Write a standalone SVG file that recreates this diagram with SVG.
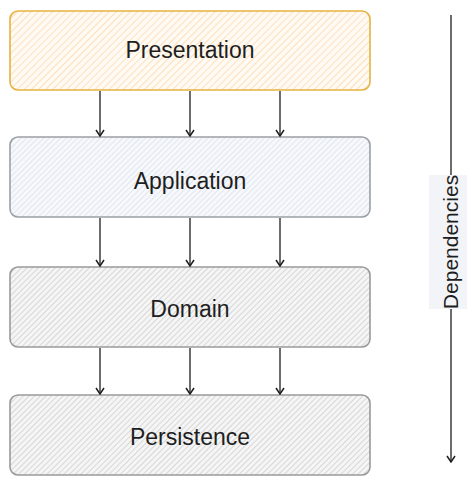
<svg xmlns="http://www.w3.org/2000/svg" width="474" height="486" viewBox="0 0 474 486">
<defs>
<pattern id="hOrange" patternUnits="userSpaceOnUse" width="5" height="5" patternTransform="rotate(45)">
<rect width="5" height="5" fill="#fffaf3"/>
<line x1="0" y1="0" x2="0" y2="5" stroke="#fde0bd" stroke-width="2"/>
</pattern>
<pattern id="hBlue" patternUnits="userSpaceOnUse" width="4" height="4" patternTransform="rotate(45)">
<rect width="4" height="4" fill="#f6f8fb"/>
<line x1="0" y1="0" x2="0" y2="4" stroke="#dce2ed" stroke-width="1.6"/>
</pattern>
<pattern id="hGray" patternUnits="userSpaceOnUse" width="4" height="4" patternTransform="rotate(45)">
<rect width="4" height="4" fill="#f5f5f5"/>
<line x1="0" y1="0" x2="0" y2="4" stroke="#d0d0d0" stroke-width="1.6"/>
</pattern>
<marker id="arr" markerWidth="10" markerHeight="10" refX="9" refY="5" orient="auto" markerUnits="userSpaceOnUse" viewBox="0 0 10 10">
<path d="M3,1 L9,5 L3,9" fill="none" stroke="#1e1e1e" stroke-width="1.5"/>
</marker>
</defs>
<style>
.box{stroke-width:1.6}
.lbl{font-family:"Liberation Sans",Arial,sans-serif;font-size:23px;fill:#1e1e1e;text-anchor:middle;dominant-baseline:central}
.con{stroke:#1e1e1e;stroke-width:1.3;fill:none}
</style>
<g id="presentation">
<rect class="box" x="10" y="11" width="360" height="79" rx="8" fill="url(#hOrange)" stroke="#e6b240"/>
<text class="lbl" x="190" y="50">Presentation</text>
</g>
<g id="application">
<rect class="box" x="10" y="137" width="360" height="80" rx="8" fill="url(#hBlue)" stroke="#9aa0a6"/>
<text class="lbl" x="190" y="181">Application</text>
</g>
<g id="domain">
<rect class="box" x="10" y="267" width="360" height="80" rx="8" fill="url(#hGray)" stroke="#9a9a9a"/>
<text class="lbl" x="190" y="309">Domain</text>
</g>
<g id="persistence">
<rect class="box" x="10" y="395" width="360" height="80" rx="8" fill="url(#hGray)" stroke="#9a9a9a"/>
<text class="lbl" x="190" y="437">Persistence</text>
</g>
<g id="connectors">
<line class="con" x1="100" y1="91" x2="100" y2="136" marker-end="url(#arr)"/>
<line class="con" x1="190" y1="91" x2="190" y2="136" marker-end="url(#arr)"/>
<line class="con" x1="280" y1="91" x2="280" y2="136" marker-end="url(#arr)"/>
<line class="con" x1="100" y1="218" x2="100" y2="266" marker-end="url(#arr)"/>
<line class="con" x1="190" y1="218" x2="190" y2="266" marker-end="url(#arr)"/>
<line class="con" x1="280" y1="218" x2="280" y2="266" marker-end="url(#arr)"/>
<line class="con" x1="100" y1="348" x2="100" y2="394" marker-end="url(#arr)"/>
<line class="con" x1="190" y1="348" x2="190" y2="394" marker-end="url(#arr)"/>
<line class="con" x1="280" y1="348" x2="280" y2="394" marker-end="url(#arr)"/>
<line class="con" x1="451" y1="15" x2="451" y2="462" marker-end="url(#arr)"/>
</g>
<g id="dependencies">
<rect x="429" y="175" width="38" height="134" fill="#f3f4f7"/>
<text class="lbl" transform="translate(450,242) rotate(-90)" x="0" y="0" style="font-size:21px">Dependencies</text>
</g>
</svg>
